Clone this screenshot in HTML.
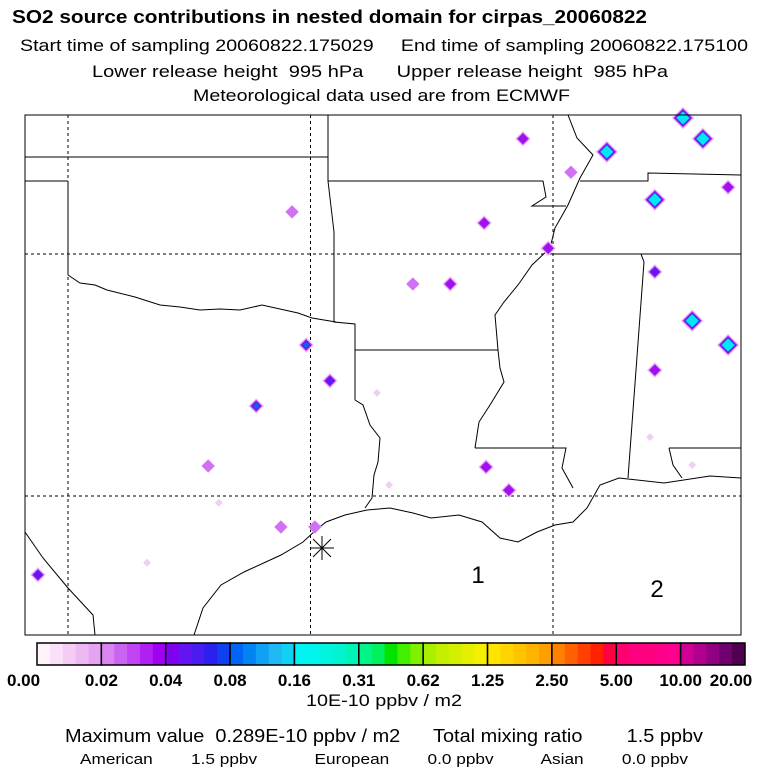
<!DOCTYPE html>
<html><head><meta charset="utf-8"><style>
body{margin:0;background:#fff}
svg text{font-family:"Liberation Sans",sans-serif}
</style></head><body>
<svg id="c" width="768" height="768" viewBox="0 0 768 768" xmlns="http://www.w3.org/2000/svg">
<text x="12" y="23" font-size="18" font-weight="bold" textLength="635" lengthAdjust="spacingAndGlyphs">SO2 source contributions in nested domain for cirpas_20060822</text>
<text x="20" y="51" font-size="17" textLength="728" lengthAdjust="spacingAndGlyphs" xml:space="preserve">Start time of sampling 20060822.175029     End time of sampling 20060822.175100</text>
<text x="92" y="77" font-size="17" textLength="576" lengthAdjust="spacingAndGlyphs" xml:space="preserve">Lower release height  995 hPa      Upper release height  985 hPa</text>
<text x="193" y="101" font-size="17" textLength="377" lengthAdjust="spacingAndGlyphs">Meteorological data used are from ECMWF</text>
<g id="map"></g>
<rect x="25" y="115" width="716" height="520" fill="none" stroke="#000" stroke-width="1"/>
<g id="cbar"></g>
<text x="306" y="706" font-size="17" textLength="156" lengthAdjust="spacingAndGlyphs">10E-10 ppbv / m2</text>
<text x="65" y="742" font-size="18" textLength="638" lengthAdjust="spacingAndGlyphs" xml:space="preserve">Maximum value  0.289E-10 ppbv / m2      Total mixing ratio        1.5 ppbv</text>
<text x="80" y="764" font-size="15" textLength="608" lengthAdjust="spacingAndGlyphs" xml:space="preserve">American        1.5 ppbv            European        0.0 ppbv          Asian        0.0 ppbv</text>
</svg>
<script>
const NS="http://www.w3.org/2000/svg";
const srcLon=[-90.62,-88.89,-86.91,-87.32,-89.63,-86.39,-87.90,-95.38,-91.42,-90.10,-92.89,-92.12,-87.90,-87.13,-86.39,-87.90,-95.09,-94.60,-96.12,-93.63,-91.38,-90.91,-97.11,-96.89,-95.61,-94.91,-98.37,-100.62,-88.0,-87.13,-93.38];
const srcLat=[37.38,37.11,37.38,37.81,36.69,36.38,36.12,35.87,35.64,35.12,34.38,34.38,34.63,33.62,33.12,32.60,33.12,32.38,31.86,32.13,30.60,30.12,30.62,29.86,29.36,29.36,28.62,28.37,31.22,30.64,30.23];
const srcVal=[0.03,0.2,0.2,0.3,0.012,0.035,0.2,0.012,0.02,0.02,0.01,0.03,0.05,0.2,0.2,0.03,0.09,0.05,0.1,0.006,0.025,0.03,0.012,0.006,0.012,0.012,0.006,0.05,0.006,0.006,0.006];
const cbLabels=["0.00","0.02","0.04","0.08","0.16","0.31","0.62","1.25","2.50","5.00","10.00","20.00"];
const cbColors=[["#fff4fc","#fae0f8","#f4ccf4","#eeb8f2","#e6a4f0"],["#da84f2","#cc64f2","#c044f2","#b020f2","#a000f0"],["#8000f0","#6414f0","#4a1cf0","#2c20f0","#1040f0"],["#0064f4","#0084f4","#10a0f4","#20b8f4","#10d0f4"],["#00f4f4","#00f4ec","#00f4e0","#00f4d0","#00f4b8"],["#00f488","#00f060","#00e400","#40f000","#80f000"],["#a8f000","#c4f000","#d4f000","#e4f000","#f4f000"],["#ffe400","#ffd400","#ffc400","#ffb400","#ffa000"],["#ff8000","#ff6000","#ff4000","#ff2000","#ff0040"],["#ff0070","#ff0080","#ff0080","#ff0088","#ff0090"],["#d00094","#b00090","#900080","#700070","#500050"]];
const xS=lon=>68+(lon+100)*48.5;
const yS=lat=>254-(lat-35)*48.4;
function mk(tag,attrs,parent){const e=document.createElementNS(NS,tag);for(const k in attrs)e.setAttribute(k,attrs[k]);parent.appendChild(e);return e;}
const map=document.getElementById('map');
[-100,-95,-90].forEach(l=>{const e=mk('line',{x1:xS(l),x2:xS(l),y1:115,y2:635,stroke:'#000','stroke-width':1,'stroke-dasharray':'3,3'},map);

});
[35,30].forEach(l=>{const e=mk('line',{x1:25,x2:741,y1:yS(l),y2:yS(l),stroke:'#000','stroke-width':1,'stroke-dasharray':'3,3'},map);

});
const bounds=[
"25,157 328,157","25,181 68,181","328,115 328,181","328,181 543,181 546,197 532,206 566,206",
"328,181 334,232 334,322 355,324 355,400","68,181 68,275",
"68,275 80,283 95,285 107,290 135,297 160,305 180,307 200,310 220,309 240,310 262,305 280,309 298,313 312,318 336,322",
"25,532 43,558 68,588 93,615 95,635","355,350 498,350",
"498,350 495,315 504,302 518,285 532,265 550,248 555,228 568,205 580,178 593,155 577,138 568,115",
"498,350 500,368 504,382 490,405 479,422 475,448","475,448 566,448 562,468 573,488",
"550,254 741,254","580,181 648,181 648,173 741,175","641,254 644,262 628,478","669,448 741,448","669,448 673,465 682,478",
"355,400 363,405 370,425 380,438 378,462 374,475 372,498 365,508",
"194,635 203,608 221,585 244,572 281,555 303,542 316,530 326,522 345,515 367,510 390,508 413,513 431,518 459,515 482,522 500,538 518,542 537,532 555,525 573,522 587,508 600,485 619,478 664,483 710,476 741,478"];
bounds.forEach(p=>{const e=mk('polyline',{points:p,fill:'none',stroke:'#000','stroke-width':1},map);

});
const lv=[[0,8,"#f2cef4"],[0.01,6.5,"#d070f2"],[0.02,5.5,"#a010f0"],[0.04,4.5,"#5a1cf0"],[0.08,3.5,"#1060f0"],[0.12,3,"#00e8f4"]];
srcVal.forEach((v,i)=>{const g=mk('g',{},map);


const cx=xS(srcLon[i]),cy=yS(srcLat[i]);
lv.forEach(([t,r,c],k)=>{if(v>=t){let rr=r;if(v<0.01)rr=4;else if(v<0.02&&k===0)rr=7;if(v>=0.12)rr+=3.5;mk('polygon',{points:`${cx-rr},${cy} ${cx},${cy-rr} ${cx+rr},${cy} ${cx},${cy+rr}`,fill:c},g);}});});
const st=mk('g',{stroke:'#000','stroke-width':1},map);


[[322,536,322,560],[310,548,334,548],[313,539,331,557],[313,557,331,539]].forEach(a=>mk('line',{x1:a[0],y1:a[1],x2:a[2],y2:a[3]},st));
const t1=mk('text',{x:478,y:583,'font-size':24,'text-anchor':'middle'},map);t1.textContent='1';


const t2=mk('text',{x:657,y:597,'font-size':24,'text-anchor':'middle'},map);t2.textContent='2';


const cb=document.getElementById('cbar');const x0=37,x1=745,y0=643,h=22,seg=(x1-x0)/cbColors.length;
cbColors.forEach((cols,i)=>{cols.forEach((c,j)=>{mk('rect',{x:x0+i*seg+j*seg/5,y:y0,width:seg/5+0.5,height:h,fill:c},cb);});
const b=mk('rect',{x:x0+i*seg,y:y0,width:seg,height:h,fill:'none',stroke:'#000','stroke-width':1.5},cb);

});
cbLabels.forEach((l,i)=>{const t=mk('text',{x:x0+i*seg-(i===0?30:0)+(i===cbLabels.length-1?-14:0),y:686,'font-size':17,'font-weight':'bold','text-anchor':i===0?'start':'middle',transform:''},cb);
t.textContent=l;

});
</script>
</body></html>
